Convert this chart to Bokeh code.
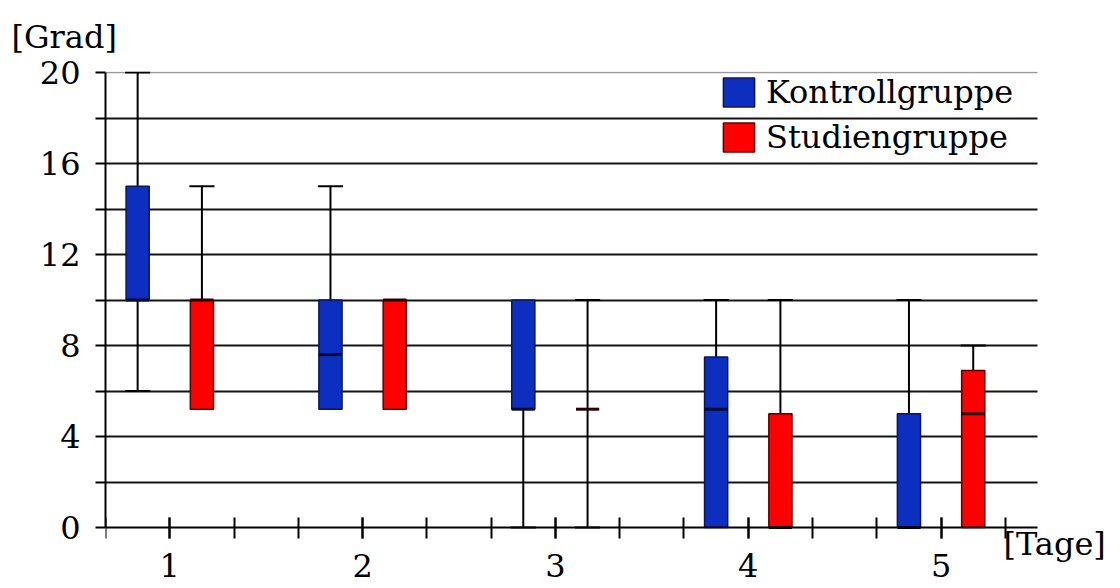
from bokeh.plotting import figure
from bokeh.models import (ColumnDataSource, Range1d, FixedTicker, Legend,
                          LegendItem, Label, Grid, Title)
from bokeh.embed import file_html
from bokeh.resources import INLINE

# Wound angle per day: five-number summaries for both groups
days = [1, 2, 3, 4, 5]
day_labels = ["1", "2", "3", "4", "5"]

kontroll_min = [6, 5.2, 0, 0, 0]
kontroll_q1 = [10, 5.2, 5.2, 0, 0]
kontroll_median = [10, 7.6, 5.2, 5.2, 0]
kontroll_q3 = [15, 10, 10, 7.5, 5]
kontroll_max = [20, 15, 10, 10, 10]

studien_min = [5.2, 5.2, 0, 0, 0]
studien_q1 = [5.2, 5.2, 5.2, 0, 0]
studien_median = [10, 10, 5.2, 0, 5]
studien_q3 = [10, 10, 5.2, 5, 6.9]
studien_max = [15, 10, 10, 10, 8]

y_major = [0, 4, 8, 12, 16, 20]
y_minor = [2, 6, 10, 14, 18]

FONT = "DejaVu Serif"
X_START, X_END = 2 / 3, 5.5          # extent of the day axis
Y_START, Y_END = 0, 20               # extent of the value axis
OFFSET = 1 / 6
BOX_W = 0.12
CAP_W = 0.13

# pixel geometry of the plotting area; the frame runs on past the axes to
# the right and bottom edges so the axis texts there are not cut off, and
# one pixel above the top rule so that rule is still drawn
LEFT, TOP = 105, 71
AXIS_W, AXIS_H = 932, 455
W, H = 1120, 588
px_day = AXIS_W / (X_END - X_START)
px_unit = AXIS_H / (Y_END - Y_START)
BELOW = H - TOP - 1 - AXIS_H

p = figure(width=W, height=H,
           x_range=Range1d(X_START, X_END + (W - LEFT - AXIS_W) / px_day),
           y_range=Range1d(Y_START - BELOW / px_unit, Y_END + 1 / px_unit),
           output_backend="svg", toolbar_location=None,
           min_border_left=LEFT, min_border_right=0,
           min_border_top=TOP, min_border_bottom=0)
p.outline_line_color = None
p.background_fill_color = "white"
p.border_fill_color = "white"

# unit of the value axis, top left
p.title = Title(text="[Grad]", align="left", offset=-94, standoff=31,
                text_font=FONT, text_font_size="32px",
                text_font_style="normal", text_color="black")

# horizontal rules every 2 units, the top one lighter
p.xgrid.visible = False
p.ygrid.ticker = FixedTicker(ticks=[v for v in range(2, 20, 2)])
p.ygrid.cross_bounds = (X_START, X_END)
p.ygrid.grid_line_color = "#141414"
p.ygrid.grid_line_width = 1.8
p.add_layout(Grid(dimension=1, ticker=FixedTicker(ticks=[Y_END]),
                  cross_bounds=(X_START, X_END), grid_line_color="#9c9c9c",
                  grid_line_width=1.6))

# axes
thirds = [X_START + i / 3 for i in range(int(round((X_END - X_START) * 3)) + 1)]
p.xaxis.ticker = FixedTicker(ticks=days,
                             minor_ticks=[t for t in thirds if t < X_END - 0.1])
p.xaxis.major_label_overrides = {d: s for d, s in zip(days, day_labels)}
p.xaxis.fixed_location = Y_START
p.xaxis.bounds = (X_START, X_END)
p.yaxis.ticker = FixedTicker(ticks=y_major, minor_ticks=y_minor)
p.yaxis.bounds = (Y_START, Y_END)

for ax in (p.xaxis[0], p.yaxis[0]):
    ax.axis_line_color = "black"
    ax.axis_line_width = 2
    ax.major_tick_line_color = "black"
    ax.minor_tick_line_color = "black"
    ax.major_tick_line_width = 2
    ax.minor_tick_line_width = 2
    ax.major_label_text_font = FONT
    ax.major_label_text_font_size = "32px"
    ax.major_label_text_color = "black"

p.xaxis.major_tick_in = 10
p.xaxis.major_tick_out = 11
p.xaxis.minor_tick_in = 10
p.xaxis.minor_tick_out = 11
p.xaxis.major_label_standoff = 15

p.yaxis.major_tick_in = 0
p.yaxis.major_tick_out = 10
p.yaxis.minor_tick_in = 0
p.yaxis.minor_tick_out = 10
p.yaxis.major_label_standoff = 15


def draw_group(offset, mins, q1, med, q3, maxs, fill, edge, median_color):
    xs = [d + offset for d in days]
    up = [i for i in range(len(days)) if maxs[i] > q3[i]]
    lo = [i for i in range(len(days)) if mins[i] < q1[i]]
    whisk = ColumnDataSource(dict(
        x=[xs[i] for i in up] + [xs[i] for i in lo],
        y0=[q3[i] for i in up] + [q1[i] for i in lo],
        y1=[maxs[i] for i in up] + [mins[i] for i in lo],
    ))
    p.segment(x0="x", y0="y0", x1="x", y1="y1", source=whisk,
              line_color="black", line_width=2)
    caps = ColumnDataSource(dict(
        x0=[xs[i] - CAP_W / 2 for i in up] + [xs[i] - CAP_W / 2 for i in lo],
        x1=[xs[i] + CAP_W / 2 for i in up] + [xs[i] + CAP_W / 2 for i in lo],
        y=[maxs[i] for i in up] + [mins[i] for i in lo],
    ))
    p.segment(x0="x0", y0="y", x1="x1", y1="y", source=caps,
              line_color="black", line_width=2)
    boxes = ColumnDataSource(dict(
        left=[x - BOX_W / 2 for x in xs], right=[x + BOX_W / 2 for x in xs],
        bottom=q1, top=q3,
    ))
    r = p.quad(left="left", right="right", bottom="bottom", top="top",
               source=boxes, fill_color=fill, line_color=edge, line_width=1.5)
    meds = ColumnDataSource(dict(
        x0=[x - BOX_W / 2 for x in xs], x1=[x + BOX_W / 2 for x in xs], y=med,
    ))
    p.segment(x0="x0", y0="y", x1="x1", y1="y", source=meds,
              line_color=median_color, line_width=3)
    return r


r_k = draw_group(-OFFSET, kontroll_min, kontroll_q1, kontroll_median,
                 kontroll_q3, kontroll_max, "#0d2fbf", "#0a1656", "#020a30")
r_s = draw_group(OFFSET, studien_min, studien_q1, studien_median,
                 studien_q3, studien_max, "#ff0000", "#5a0000", "#2a0000")

legend = Legend(items=[LegendItem(label="Kontrollgruppe", renderers=[r_k]),
                       LegendItem(label="Studiengruppe", renderers=[r_s])],
                location=(614, 371 + BELOW), orientation="vertical")
legend.label_text_font = FONT
legend.label_text_font_size = "32px"
legend.label_text_color = "black"
legend.glyph_width = 39
legend.glyph_height = 36
legend.label_standoff = 8
legend.spacing = 7
legend.padding = 0
legend.margin = 0
legend.background_fill_alpha = 0
legend.border_line_color = None
p.add_layout(legend)

# unit of the day axis, just past the end of the axis
p.add_layout(Label(x=AXIS_W - 34, y=Y_START + 0.1, x_units="screen",
                   y_units="data", text="[Tage]", text_font=FONT,
                   text_font_size="32px", text_color="black",
                   text_baseline="top"))

open("out.html", "w").write(file_html(p, INLINE))
